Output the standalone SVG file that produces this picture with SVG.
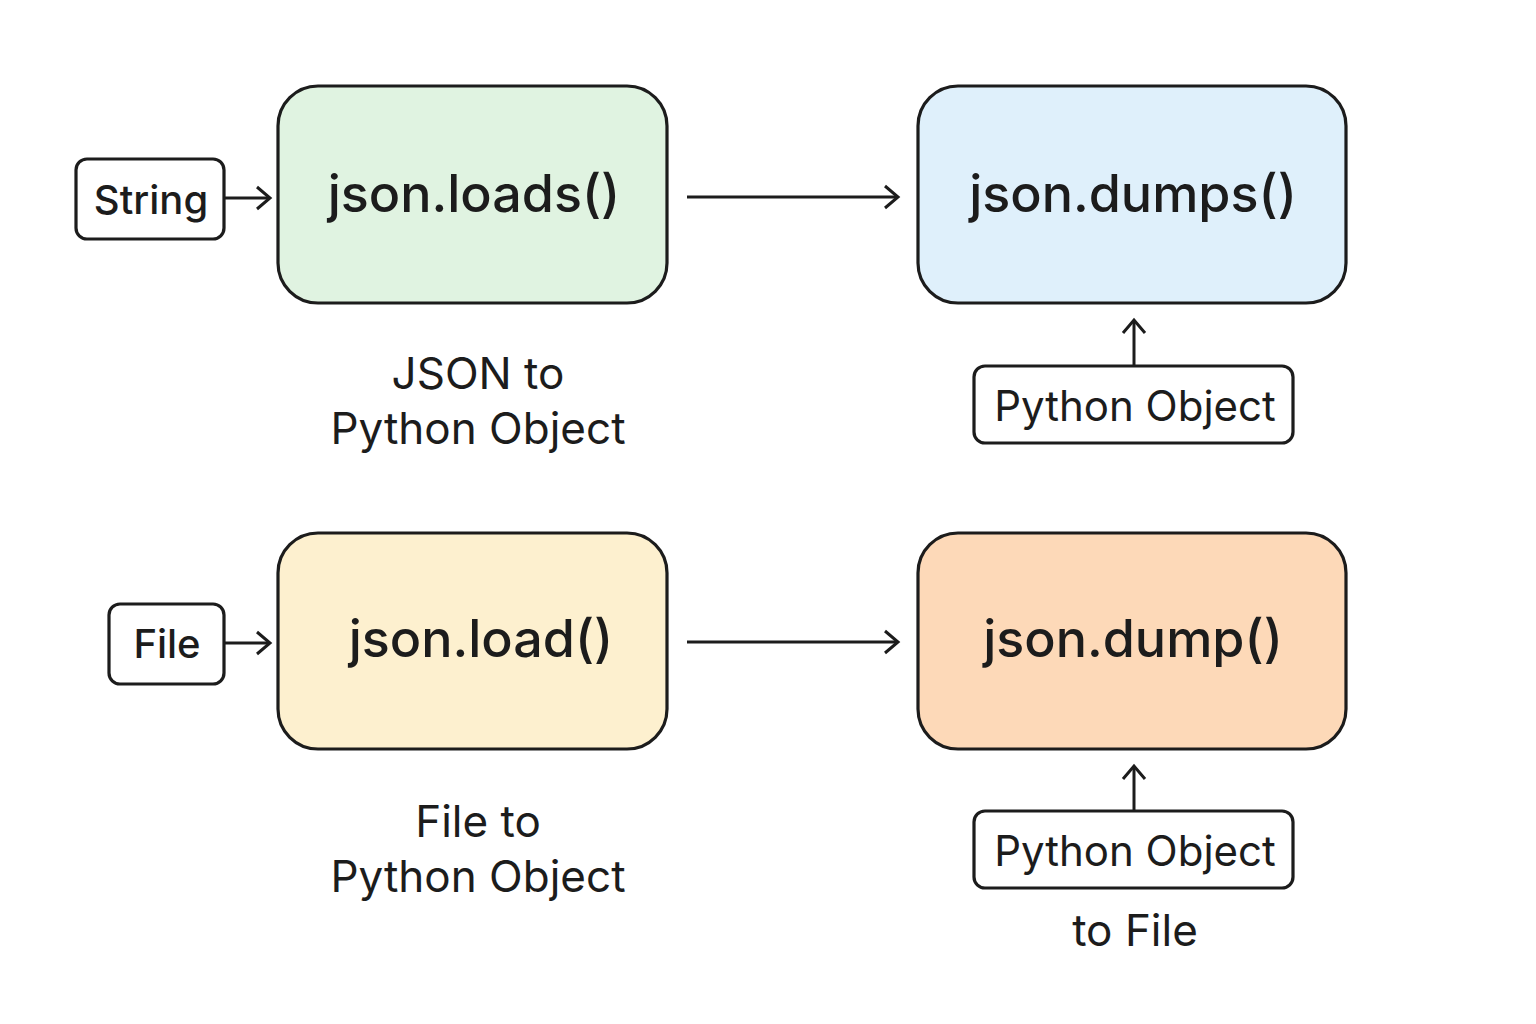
<svg xmlns="http://www.w3.org/2000/svg" width="1536" height="1024" viewBox="0 0 1536 1024">
<style>
.big{stroke:#1c1c1c;stroke-width:3.2}
.small{fill:#fff;stroke:#1c1c1c;stroke-width:3.2}
.t{font-family:Inter,"Open Sans","Liberation Sans",sans-serif;fill:#1c1c1c;text-anchor:middle}
.fn{font-size:52px;font-weight:500}
.lbl{font-size:40px;font-weight:500}
.po{font-size:42px}
.cap{font-size:44px}
.conn{stroke:#1c1c1c;stroke-width:3;fill:none}
</style>
<defs>
<marker id="ah" viewBox="0 0 28 28" refX="24" refY="14" markerWidth="28" markerHeight="28" markerUnits="userSpaceOnUse" orient="auto">
<path d="M11 3 L24 14 L11 25" fill="none" stroke="#1c1c1c" stroke-width="3"/>
</marker>
</defs>
<rect width="1536" height="1024" fill="#fff"/>
<g id="loads">
<rect class="big" x="278" y="86" width="389" height="217" rx="40" fill="#e0f3e1"/>
<text class="t fn" x="474" y="212">json.loads()</text>
</g>
<g id="dumps">
<rect class="big" x="918" y="86" width="428" height="217" rx="40" fill="#dff0fb"/>
<text class="t fn" x="1133" y="212">json.dumps()</text>
</g>
<g id="load">
<rect class="big" x="278" y="533" width="389" height="216" rx="40" fill="#fdf0cf"/>
<text class="t fn" x="481" y="657">json.load()</text>
</g>
<g id="dump">
<rect class="big" x="918" y="533" width="428" height="216" rx="40" fill="#fdd9b8"/>
<text class="t fn" x="1133" y="657">json.dump()</text>
</g>
<g id="string">
<rect class="small" x="76" y="159" width="148" height="80" rx="11"/>
<text class="t lbl" x="151" y="214">String</text>
</g>
<g id="file">
<rect class="small" x="109" y="604" width="115" height="80" rx="11"/>
<text class="t lbl" x="167" y="658">File</text>
</g>
<g id="pyobj1">
<rect class="small" x="974" y="366" width="319" height="77" rx="11"/>
<text class="t po" x="1135" y="421">Python Object</text>
</g>
<g id="pyobj2">
<rect class="small" x="974" y="811" width="319" height="77" rx="11"/>
<text class="t po" x="1135" y="866">Python Object</text>
</g>
<g id="captions">
<text class="t cap" x="478" y="389">JSON to</text>
<text class="t cap" x="478" y="444">Python Object</text>
<text class="t cap" x="478" y="837">File to</text>
<text class="t cap" x="478" y="892">Python Object</text>
<text class="t cap" x="1135" y="946">to File</text>
</g>
<g id="connectors">
<line class="conn" x1="224" y1="198" x2="270" y2="198" marker-end="url(#ah)"/>
<line class="conn" x1="224" y1="643" x2="270" y2="643" marker-end="url(#ah)"/>
<line class="conn" x1="687" y1="197" x2="898" y2="197" marker-end="url(#ah)"/>
<line class="conn" x1="687" y1="642" x2="898" y2="642" marker-end="url(#ah)"/>
<line class="conn" x1="1134" y1="366" x2="1134" y2="320" marker-end="url(#ah)"/>
<line class="conn" x1="1134" y1="811" x2="1134" y2="766" marker-end="url(#ah)"/>
</g>
</svg>
